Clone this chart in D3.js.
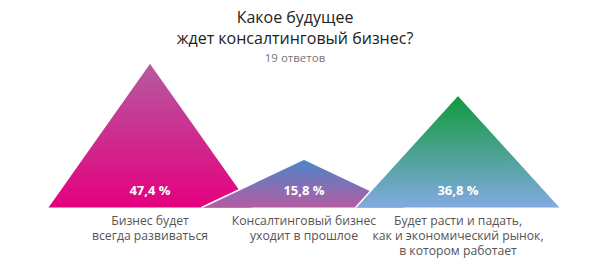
<!DOCTYPE html>
<html><head><meta charset="utf-8">
<script src="https://cdn.jsdelivr.net/npm/d3@7"></script>
<style>
html,body{margin:0;padding:0;background:#fff;}
svg{display:block;font-family:"Open Sans",sans-serif;}
</style></head>
<body><svg id="chart" width="591" height="259"></svg>
<script>
const titleLines = ["Какое будущее", "ждет консалтинговый бизнес?"];
const subtitle = "19 ответов";
const categories = ["a", "b", "c"];
const categoryLabels = [
  ["Бизнес будет", "всегда развиваться"],
  ["Консалтинговый бизнес", "уходит в прошлое"],
  ["Будет расти и падать,", "как и экономический рынок,", "в котором работает"]
];
const values = [47.4, 15.8, 36.8];
const topColors = ["#b45ba0", "#4a86ca", "#109a3a"];
const bottomColors = ["#e5007e", "#b35da2", "#82aae2"];

const svg = d3.select("#chart");
const x = d3.scalePoint().domain(categories).range([150, 458]);
const y = d3.scaleLinear().domain([0, 50]).range([207.5, 54.5]);
const halfW = x.step() * 0.665;
const fmt = d3.formatLocale({decimal: ",", thousands: " ", grouping: [3], currency: ["", ""]}).format(".1f");

const defs = svg.append("defs");
categories.forEach((c, i) => {
  const g = defs.append("linearGradient").attr("id", "g" + i)
    .attr("x1", 0).attr("y1", 0).attr("x2", 0).attr("y2", 1);
  g.append("stop").attr("offset", "0%").attr("stop-color", topColors[i]);
  g.append("stop").attr("offset", "100%").attr("stop-color", bottomColors[i]);
});

const data = categories.map((c, i) => ({c, v: values[i], i}));
const tri = svg.append("g").selectAll("g").data(data).join("g");
tri.append("path")
  .attr("d", d => `M${x(d.c) - halfW},${y(0)}L${x(d.c)},${y(d.v)}L${x(d.c) + halfW},${y(0)}Z`)
  .attr("fill", d => `url(#g${d.i})`);
tri.append("path")
  .attr("d", d => `M${x(d.c) - halfW},${y(0)}L${x(d.c)},${y(d.v)}L${x(d.c) + halfW},${y(0)}`)
  .attr("fill", "none").attr("stroke", "#fff").attr("stroke-width", 1.5);
tri.append("text")
  .attr("x", d => x(d.c)).attr("y", 194.5)
  .attr("text-anchor", "middle").attr("fill", "#fff")
  .attr("font-weight", 700).attr("font-size", 13)
  .text(d => fmt(d.v) + " %");

const labelRows = [];
data.forEach(d => categoryLabels[d.i].forEach((t, j) => labelRows.push({x: x(d.c), j, t})));
svg.append("g").selectAll("text").data(labelRows).join("text")
  .attr("x", r => r.x).attr("y", r => 224.5 + r.j * 15)
  .attr("text-anchor", "middle").attr("fill", "#555").attr("font-size", 12.2)
  .text(r => r.t);

svg.append("g").selectAll("text").data(titleLines).join("text")
  .attr("x", 295).attr("y", (t, j) => 23 + j * 21)
  .attr("text-anchor", "middle").attr("fill", "#222").attr("font-size", 16)
  .text(t => t);
svg.append("text").attr("x", 295).attr("y", 62).attr("text-anchor", "middle")
  .attr("fill", "#777").attr("font-size", 11.5).text(subtitle);
</script></body></html>
